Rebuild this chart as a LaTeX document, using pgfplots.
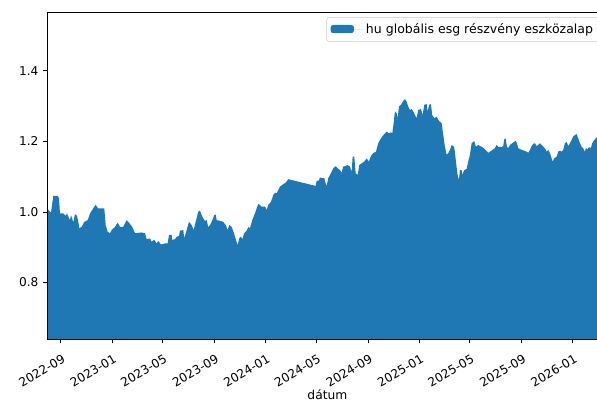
\documentclass[border=0pt]{standalone}
\usepackage{pgfplots}
\pgfplotsset{compat=1.18}
\usepackage{pgfplotstable}
\usepackage{fontspec}
\setmainfont{DejaVu Sans}
\definecolor{mplblue}{HTML}{1F77B4}
\pgfplotstableread{
d v
-31.5 1.008
-23.8 0.998
-18.3 1.046
-7.8 1.045
-4.8 1.039
-2.4 0.996
5.5 0.996
11.2 0.989
14.3 0.996
21.4 0.977
23.8 0.991
29.3 0.971
33.3 0.994
38.1 0.989
41.2 0.972
43.5 0.954
49.2 0.958
55.4 0.972
63.5 0.977
69.0 0.996
79.2 1.015
82.5 1.020
88.7 1.010
103.0 1.010
106.3 0.963
111.1 0.944
116.6 0.940
120.6 0.949
128.4 0.958
134.9 0.970
140.3 0.958
148.2 0.958
156.3 0.977
160.1 0.972
168.2 0.960
172.0 0.951
176.0 0.940
183.9 0.941
192.0 0.942
199.8 0.940
203.9 0.923
211.7 0.925
215.7 0.916
221.9 0.921
227.6 0.911
231.4 0.918
237.9 0.908
247.4 0.911
253.8 0.911
256.9 0.935
263.3 0.935
264.7 0.921
271.2 0.923
275.2 0.930
280.7 0.932
283.1 0.947
290.9 0.949
293.3 0.925
299.0 0.949
304.5 0.972
310.9 0.963
315.6 0.949
320.4 0.972
326.6 1.001
330.6 1.004
334.7 0.991
338.5 0.982
342.5 0.975
346.6 0.977
350.4 0.957
354.4 0.963
358.5 0.972
364.6 0.991
368.0 0.993
370.4 0.977
378.2 0.975
386.1 0.972
391.8 0.963
396.5 0.949
400.3 0.963
406.0 0.958
411.5 0.940
416.3 0.921
420.3 0.906
424.1 0.925
428.2 0.930
431.3 0.923
436.0 0.940
441.7 0.947
445.5 0.957
449.6 0.954
455.0 0.977
461.5 0.996
465.5 1.010
469.3 1.023
473.4 1.020
477.4 1.015
485.3 1.015
489.3 1.006
493.1 1.020
499.5 1.029
505.0 1.048
509.0 1.055
513.1 1.053
516.9 1.062
520.9 1.072
528.8 1.079
534.5 1.083
540.7 1.093
605.9 1.074
608.3 1.089
613.7 1.089
616.1 1.098
621.6 1.096
626.4 1.096
629.7 1.081
632.0 1.074
635.8 1.096
642.2 1.110
647.7 1.124
653.4 1.130
658.2 1.124
663.7 1.119
667.7 1.111
671.5 1.129
675.6 1.130
682.0 1.133
687.4 1.129
691.5 1.114
693.9 1.157
697.7 1.157
701.0 1.110
705.8 1.105
709.6 1.133
715.3 1.138
721.5 1.143
727.2 1.152
732.6 1.143
737.4 1.159
742.9 1.167
749.3 1.171
754.8 1.195
758.8 1.204
764.3 1.214
770.7 1.223
774.7 1.228
780.2 1.223
785.0 1.226
788.1 1.223
791.4 1.252
794.5 1.285
798.6 1.280
801.0 1.266
804.0 1.299
808.8 1.304
814.3 1.315
818.3 1.320
822.3 1.313
826.1 1.299
830.2 1.289
834.2 1.292
838.0 1.285
842.1 1.275
846.1 1.266
849.9 1.289
856.3 1.292
860.4 1.275
864.2 1.304
869.9 1.306
872.2 1.285
876.1 1.304
880.1 1.306
883.2 1.275
888.0 1.266
893.7 1.270
897.5 1.261
901.5 1.256
905.6 1.252
909.4 1.218
913.4 1.185
917.5 1.162
921.3 1.167
925.3 1.176
929.4 1.190
934.8 1.185
937.2 1.171
939.6 1.143
943.6 1.105
946.7 1.091
949.1 1.119
953.1 1.119
954.6 1.105
959.3 1.119
965.0 1.122
968.8 1.143
972.9 1.162
976.9 1.195
983.1 1.201
987.2 1.185
992.6 1.190
1000.7 1.185
1008.6 1.178
1016.4 1.168
1024.5 1.174
1032.4 1.181
1036.4 1.190
1040.2 1.185
1048.3 1.184
1052.1 1.187
1054.5 1.206
1057.8 1.209
1060.9 1.185
1064.0 1.181
1068.0 1.190
1073.5 1.195
1078.3 1.199
1081.6 1.202
1084.7 1.195
1087.8 1.181
1095.9 1.176
1102.1 1.174
1107.8 1.171
1111.6 1.168
1115.7 1.176
1119.7 1.187
1123.5 1.193
1127.6 1.195
1131.6 1.187
1135.4 1.190
1139.4 1.195
1143.5 1.190
1147.3 1.185
1151.3 1.181
1155.4 1.171
1159.2 1.176
1163.2 1.167
1167.3 1.152
1169.6 1.143
1173.5 1.152
1179.2 1.157
1183.0 1.171
1187.0 1.174
1191.1 1.171
1194.9 1.176
1198.9 1.195
1202.9 1.199
1206.8 1.187
1210.8 1.195
1214.8 1.204
1218.6 1.214
1222.7 1.218
1226.7 1.221
1230.5 1.209
1234.6 1.195
1238.6 1.185
1242.4 1.181
1246.4 1.171
1248.8 1.181
1252.9 1.178
1256.0 1.184
1260.7 1.181
1263.8 1.195
1268.6 1.204
1272.6 1.209
1276.0 1.214
}\fund
\begin{document}
\begin{tikzpicture}
\path[use as bounding box] (-35.85pt,-46.5pt) rectangle (411.9pt,254.25pt);
\begin{axis}[
  scale only axis,
  width=419.4pt, height=245.25pt,
  anchor=south west, at={(0pt,0pt)},
  xmin=-31.4, xmax=1299,
  ymin=0.640, ymax=1.567,
  axis line style={line width=0.75pt, black},
  tick style={line width=0.75pt, black},
  tick align=outside,
  major tick length=3.3pt,
  xtick pos=lower, ytick pos=left,
  xtick={0,122,242,365,487,608,731,853,973,1096,1218},
  xticklabels={2022-09,2023-01,2023-05,2023-09,2024-01,2024-05,2024-09,2025-01,2025-05,2025-09,2026-01},
  ytick={0.8,1.0,1.2,1.4},
  yticklabel style={/pgf/number format/fixed, /pgf/number format/precision=1, /pgf/number format/fixed zerofill},
  /pgf/number format/assume math mode=true,
  tick label style={font=\fontsize{9.1}{11}\selectfont},
  xticklabel style={rotate=30, anchor=north east, inner sep=1pt, yshift=-6pt, xshift=-2.5pt},
  yticklabel style={inner sep=1pt, xshift=-2.5pt},
  xlabel={dátum},
  xlabel style={font=\fontsize{9.2}{11}\selectfont, yshift=3pt},
  legend style={at={(0.9875,0.9838)}, anchor=north east,
    font=\fontsize{9.4}{11}\selectfont,
    draw=black!20, rounded corners=2pt, fill=white,
    inner xsep=3pt, inner ysep=2.5pt},
  legend cell align=left,
  legend image code/.code={\fill[#1] (0pt,-2.7pt) rectangle (17.5pt,3.5pt); \path (0pt,0pt) -- (24.5pt,0pt);},
  axis on top,
]
\addplot[fill=mplblue, draw=none]
  table[x=d, y=v] {\fund} \closedcycle;
\addlegendentry{hu globális esg részvény eszközalap}
\end{axis}
\end{tikzpicture}
\end{document}
